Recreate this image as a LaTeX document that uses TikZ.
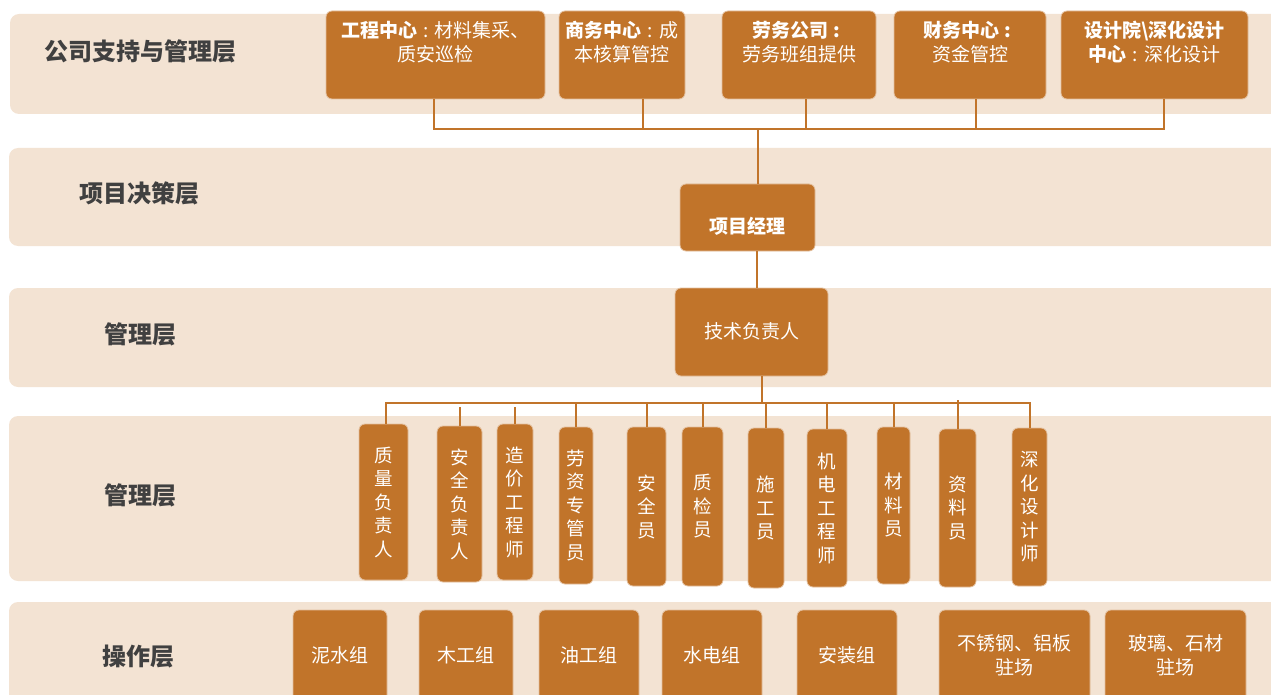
\documentclass[tikz,border=0pt]{standalone}
\usepackage{fontspec}
\setmainfont{Noto Sans CJK SC}
\definecolor{bandc}{RGB}{243,227,211}
\definecolor{boxc}{RGB}{193,116,42}
\definecolor{lblc}{RGB}{64,64,64}
\newcommand\fcolon{\makebox[0.9em]{:}}
\begin{document}
\begin{tikzpicture}[x=1pt,y=-1pt,
  band/.style={fill=bandc, rounded corners=9pt},
  box/.style={fill=boxc, draw=white!55!boxc, line width=0.8pt, rounded corners=6pt, inner sep=0pt},
  btext/.style={text=white, font=\fontsize{19}{24}\selectfont, align=center, inner sep=0pt},
  vtext/.style={text=white, font=\fontsize{18.5}{23.5}\selectfont, align=center, inner sep=0pt},
  lbl/.style={text=lblc, font=\fontsize{24}{28}\selectfont\bfseries, inner sep=0pt},
  conn/.style={draw=boxc, line width=2pt}]
\clip (0,0) rectangle (1271,695);
\useasboundingbox (0,0) rectangle (1271,695);
% bands
\fill[band] (10,14) rectangle (1295,114);
\fill[band] (9,148) rectangle (1295,246);
\fill[band] (9,288) rectangle (1295,387);
\fill[band] (9,416) rectangle (1295,581);
\fill[band] (9,602) rectangle (1295,730);
% layer labels
\node[lbl] (L1) at (140,51) {公司支持与管理层};
\node[lbl] (L2) at (139,193) {项目决策层};
\node[lbl] (L3) at (140,334) {管理层};
\node[lbl] (L4) at (140,495) {管理层};
\node[lbl] (L5) at (138,657) {操作层};
% top boxes
\node[box, minimum width=219, minimum height=88] (b1) at (435.5,55) {};
\node[box, minimum width=126, minimum height=88] (b2) at (622,55) {};
\node[box, minimum width=154, minimum height=88] (b3) at (799,55) {};
\node[box, minimum width=152, minimum height=88] (b4) at (970,55) {};
\node[box, minimum width=187, minimum height=88] (b5) at (1154.5,55) {};
\node[btext] (t1) at (435.5,42) {{\bfseries 工程中心}\fcolon 材料集采、\\质安巡检};
\node[btext] (t2) at (622,42) {{\bfseries 商务中心}\fcolon 成\\本核算管控};
\node[btext] (t3) at (799,42) {{\bfseries 劳务公司\fcolon}\\劳务班组提供};
\node[btext] (t4) at (970,42) {{\bfseries 财务中心\fcolon}\\资金管控};
\node[btext] (t5) at (1154.5,42) {{\bfseries 设计院\textbackslash 深化设计}\\{\bfseries 中心}\fcolon 深化设计};
% top bus
\coordinate (j1) at (434,129);
\coordinate (j2) at (643,129);
\coordinate (j3) at (806,129);
\coordinate (j4) at (976,129);
\coordinate (j5) at (1164,129);
\coordinate (jm) at (758,129);
\draw[conn] (j1 |- b1.south) -- (j1) -- (j5) -- (j5 |- b5.south);
\draw[conn] (j2 |- b2.south) -- (j2);
\draw[conn] (j3 |- b3.south) -- (j3);
\draw[conn] (j4 |- b4.south) -- (j4);
% project manager
\node[box, minimum width=135, minimum height=67] (pm) at (747.5,217.5) {};
\node[btext, font=\fontsize{19}{24}\selectfont\bfseries] (pmt) at (747.5,226) {项目经理};
\draw[conn] (jm) -- (jm |- pm.north);
% technical head
\node[box, minimum width=153, minimum height=88] (tr) at (751.5,332) {};
\node[btext] (trt) at (751.5,331) {技术负责人};
\coordinate (k1) at (757,251);
\draw[conn] (k1 |- pm.south) -- (k1 |- tr.north);
% management boxes
\node[box, minimum width=49, minimum height=156] (m1) at (383.5,502) {};
\node[box, minimum width=45, minimum height=156] (m2) at (459.5,504) {};
\node[box, minimum width=36, minimum height=156] (m3) at (515,502) {};
\node[box, minimum width=34, minimum height=157] (m4) at (576,505.5) {};
\node[box, minimum width=39, minimum height=159] (m5) at (646.5,506.5) {};
\node[box, minimum width=41, minimum height=159] (m6) at (702.5,506.5) {};
\node[box, minimum width=36, minimum height=160] (m7) at (766,508) {};
\node[box, minimum width=40, minimum height=158] (m8) at (827,508) {};
\node[box, minimum width=33, minimum height=157] (m9) at (893.5,505.5) {};
\node[box, minimum width=37, minimum height=158] (m10) at (957.5,508) {};
\node[box, minimum width=35, minimum height=158] (m11) at (1029.5,507) {};
\node[vtext] (v1) at (m1) {质\\量\\负\\责\\人};
\node[vtext] (v2) at (m2) {安\\全\\负\\责\\人};
\node[vtext] (v3) at (m3) {造\\价\\工\\程\\师};
\node[vtext] (v4) at (m4) {劳\\资\\专\\管\\员};
\node[vtext] (v5) at (m5) {安\\全\\员};
\node[vtext] (v6) at (m6) {质\\检\\员};
\node[vtext] (v7) at (m7) {施\\工\\员};
\node[vtext] (v8) at (m8) {机\\电\\工\\程\\师};
\node[vtext] (v9) at (m9) {材\\料\\员};
\node[vtext] (v10) at (m10) {资\\料\\员};
\node[vtext] (v11) at (m11) {深\\化\\设\\计\\师};
% management bus
\coordinate (hb) at (762,403);
\draw[conn] (hb |- tr.south) -- (hb);
\coordinate (d1) at (386,403);
\coordinate (d11) at (1029.5,403);
\draw[conn] (d1 |- m1.north) -- (d1) -- (d11) -- (d11 |- m11.north);
\coordinate (g2) at (459.5,407);
\coordinate (g3) at (515,407);
\draw[conn] (g2) -- (g2 |- m2.north);
\draw[conn] (g3) -- (g3 |- m3.north);
\foreach \m in {m4,m5,m6,m7,m8,m9} {
  \draw[conn] (\m.north |- d1) -- (\m.north);
}
\coordinate (g10) at (957.5,400);
\draw[conn] (g10) -- (g10 |- m10.north);
% operation boxes
\node[box, minimum width=94, minimum height=100] (o1) at (340,660) {};
\node[box, minimum width=94, minimum height=100] (o2) at (466,660) {};
\node[box, minimum width=100, minimum height=100] (o3) at (589,660) {};
\node[box, minimum width=100, minimum height=100] (o4) at (712,660) {};
\node[box, minimum width=100, minimum height=100] (o5) at (847,660) {};
\node[box, minimum width=151, minimum height=100] (o6) at (1014.5,660) {};
\node[box, minimum width=141, minimum height=100] (o7) at (1175.5,660) {};
\node[btext] (p1) at (340,655) {泥水组};
\node[btext] (p2) at (466,655) {木工组};
\node[btext] (p3) at (589,655) {油工组};
\node[btext] (p4) at (712,655) {水电组};
\node[btext] (p5) at (847,655) {安装组};
\node[btext] (p6) at (1014.5,655) {不锈钢、铝板\\驻场};
\node[btext] (p7) at (1175.5,655) {玻璃、石材\\驻场};
\end{tikzpicture}
\end{document}
